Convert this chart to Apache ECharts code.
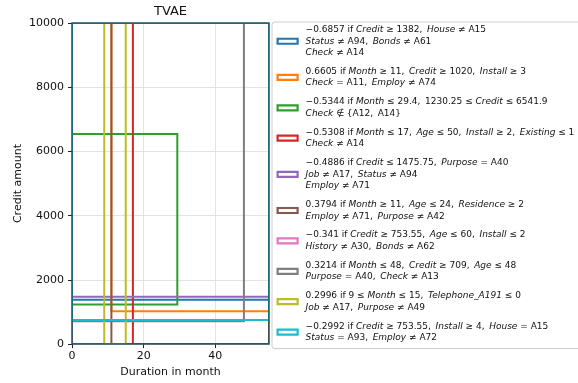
<!DOCTYPE html>
<html>
<head>
<meta charset="utf-8">
<script src="https://cdn.jsdelivr.net/npm/echarts@6/dist/echarts.min.js"></script>
<style>
  html, body { margin: 0; padding: 0; background: #fff; }
  #chart { width: 578px; height: 383px; }
</style>
</head>
<body>
<div id="chart"></div>
<script>
// Axis ranges and ticks
const monthRange = [0, 55];
const creditRange = [0, 10000];
const xTicks = [0, 20, 40];
const yTicks = [0, 2000, 4000, 6000, 8000, 10000];

// Rule boxes in (month, credit) space; null = unbounded on that side
const monthLow   = [null, 11, null, null, null, 11, null, null, 9, null];
const monthHigh  = [null, null, 29.4, 17, null, null, null, 48, 15, null];
const creditLow  = [1382, 1020, 1230.25, null, null, null, 753.55, 709, null, 753.55];
const creditHigh = [null, null, 6541.9, null, 1475.75, null, null, null, null, null];

// Rule weights and conditions (*word* = italic feature name)
const ruleWeights = ['\u22120.6857', '0.6605', '\u22120.5344', '\u22120.5308', '\u22120.4886',
                     '0.3794', '\u22120.341', '0.3214', '0.2996', '\u22120.2992'];
const ruleConditions = [
  '*Credit* \u2265 1382, *House* \u2260 A15\n*Status* \u2260 A94, *Bonds* \u2260 A61\n*Check* \u2260 A14',
  '*Month* \u2265 11, *Credit* \u2265 1020, *Install* \u2265 3\n*Check* = A11, *Employ* \u2260 A74',
  '*Month* \u2264 29.4, 1230.25 \u2264 *Credit* \u2264 6541.9\n*Check* \u2209 {A12, A14}',
  '*Month* \u2264 17, *Age* \u2264 50, *Install* \u2265 2, *Existing* \u2264 1\n*Check* \u2260 A14',
  '*Credit* \u2264 1475.75, *Purpose* = A40\n*Job* \u2260 A17, *Status* \u2260 A94\n*Employ* \u2260 A71',
  '*Month* \u2265 11, *Age* \u2264 24, *Residence* \u2265 2\n*Employ* \u2260 A71, *Purpose* \u2260 A42',
  '*Credit* \u2265 753.55, *Age* \u2264 60, *Install* \u2264 2\n*History* \u2260 A30, *Bonds* \u2260 A62',
  '*Month* \u2264 48, *Credit* \u2265 709, *Age* \u2264 48\n*Purpose* = A40, *Check* \u2260 A13',
  '9 \u2264 *Month* \u2264 15, *Telephone_A191* \u2264 0\n*Job* \u2260 A17, *Purpose* \u2260 A49',
  '*Credit* \u2265 753.55, *Install* \u2265 4, *House* = A15\n*Status* = A93, *Employ* \u2260 A72'
];

const ruleColors = ['#1f77b4', '#ff7f0e', '#2ca02c', '#d62728', '#9467bd',
                    '#8c564b', '#e377c2', '#7f7f7f', '#bcbd22', '#17becf'];

const FONT = 'DejaVu Sans';
const ruleNames = ruleWeights.map((w, i) => w + ' if ' + ruleConditions[i]);

// Convert *italic* markup into ECharts rich text
function toRich(str) {
  return str.split('*').map((seg, k) => (k % 2 === 1 ? '{i|' + seg + '}' : seg))
            .join('').replace(/, /g, ',\u2009 ');
}

const series = ruleNames.map((name, i) => ({
  type: 'custom',
  name: name,
  clip: true,
  z: 2 + i,
  itemStyle: { color: ruleColors[i] },
  encode: { x: [0, 2], y: [1, 3] },
  data: [[
    monthLow[i] == null ? monthRange[0] : monthLow[i],
    creditLow[i] == null ? creditRange[0] : creditLow[i],
    monthHigh[i] == null ? monthRange[1] : monthHigh[i],
    creditHigh[i] == null ? creditRange[1] : creditHigh[i]
  ]],
  renderItem: function (params, api) {
    const p0 = api.coord([api.value(0), api.value(3)]);
    const p1 = api.coord([api.value(2), api.value(1)]);
    return {
      type: 'rect',
      shape: { x: p0[0], y: p0[1], width: p1[0] - p0[0], height: p1[1] - p0[1] },
      style: { fill: 'none', stroke: api.visual('color'), lineWidth: 2 }
    };
  }
}));

const chart = echarts.init(document.getElementById('chart'), null, { renderer: 'canvas' });
chart.setOption({
  animation: false,
  backgroundColor: '#ffffff',
  title: {
    text: 'TVAE',
    left: 170.5,
    top: 5,
    padding: 0,
    textAlign: 'center',
    textStyle: { fontFamily: FONT, fontSize: 13, fontWeight: 'normal', color: '#111' }
  },
  grid: {
    left: 72, top: 23, width: 197, height: 324,
    show: true, z: 20,
    backgroundColor: 'rgba(0,0,0,0)',
    borderColor: '#21505a', borderWidth: 1.5
  },
  xAxis: {
    type: 'value',
    min: monthRange[0], max: monthRange[1],
    name: 'Duration in month',
    nameLocation: 'middle',
    nameGap: 22,
    nameTextStyle: { fontFamily: FONT, fontSize: 11, color: '#111' },
    axisLine: { show: false },
    axisTick: { show: true, length: 4, customValues: xTicks, lineStyle: { color: '#222', width: 1 } },
    axisLabel: { customValues: xTicks, margin: 7, fontFamily: FONT, fontSize: 11, color: '#111',
                 formatter: v => String(v) },
    splitLine: { show: true, lineStyle: { color: '#e3e3e3', width: 1 } }
  },
  yAxis: {
    type: 'value',
    min: creditRange[0], max: creditRange[1], interval: 2000,
    name: 'Credit amount',
    nameLocation: 'middle',
    nameGap: 48,
    nameTextStyle: { fontFamily: FONT, fontSize: 11, color: '#111' },
    axisLine: { show: false },
    axisTick: { show: true, length: 4, customValues: yTicks, lineStyle: { color: '#222', width: 1 } },
    axisLabel: { customValues: yTicks, margin: 8, fontFamily: FONT, fontSize: 11, color: '#111',
                 formatter: v => String(v) },
    splitLine: { show: true, lineStyle: { color: '#e3e3e3', width: 1 } }
  },
  legend: {
    orient: 'vertical',
    left: 272,
    top: 22,
    padding: [2, 40, 5, 4.5],
    itemGap: 7.4,
    itemWidth: 20,
    itemHeight: 5,
    selectedMode: false,
    borderColor: '#cccccc',
    borderWidth: 1,
    borderRadius: 3,
    backgroundColor: '#ffffff',
    data: ruleNames.map((name, i) => ({
      name: name,
      icon: 'rect',
      itemStyle: { color: '#ffffff', borderColor: ruleColors[i], borderWidth: 2.2 }
    })),
    formatter: function (name) { return toRich(name); },
    textStyle: {
      fontFamily: FONT, fontSize: 9, lineHeight: 11.5, color: '#111',
      padding: [0, 0, 0, 3],
      rich: {
        i: { fontFamily: FONT, fontSize: 9, lineHeight: 11.5, fontStyle: 'italic', color: '#111' }
      }
    }
  },
  series: series
});
</script>
</body>
</html>
